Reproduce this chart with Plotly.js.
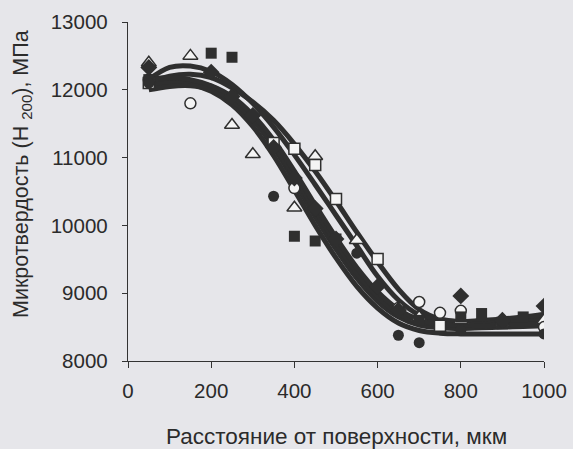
<!DOCTYPE html>
<html><head><meta charset="utf-8">
<script src="https://cdn.plot.ly/plotly-3.0.1.min.js"></script>
<style>html,body{margin:0;padding:0;background:#e6e6ea;}</style>
</head><body><div id="chart" style="width:573px;height:449px;"></div>
<script>
// Fitted curves, read at x = 50..1000 step 50
var fitX = [50,100,150,200,250,300,350,400,450,500,550,600,650,700,750,800,850,900,950,1000];
var fitA = [12100,12200,12230,12180,12030,11820,11550,11200,10800,10360,9900,9460,9060,8760,8620,8580,8580,8600,8630,8660];
var fitB = [12150,12330,12350,12270,12080,11800,11450,11040,10600,10150,9700,9250,8900,8680,8600,8580,8600,8620,8650,8690];
var fitC = [12100,12120,12120,12050,11870,11570,11150,10650,10130,9650,9220,8880,8650,8530,8490,8480,8490,8500,8510,8520];
var fitD = [12050,12100,12080,11980,11780,11460,11030,10520,10000,9520,9100,8780,8560,8450,8410,8400,8400,8400,8400,8400];
var fitE = [12000,12050,12060,12000,11840,11560,11180,10720,10220,9740,9300,8950,8700,8580,8540,8540,8550,8560,8580,8600];
var fitF = [12150,12180,12150,12060,11900,11630,11260,10800,10300,9820,9380,9020,8760,8610,8550,8530,8520,8530,8540,8560];

// Measured points
var triX = [50,150,250,300,400,450,550,700,800,900,1000];
var triY = [12400,12500,11480,11050,10260,11020,9780,8650,8600,8560,8600];
var sqFX = [50,200,250,400,450,500,700,800,850,900,950];
var sqFY = [12150,12540,12480,9840,9770,9800,8600,8650,8700,8550,8650];
var sqOX = [50,350,400,450,500,600,750,900];
var sqOY = [12100,11215,11130,10890,10390,9505,8520,8560];
var ciOX = [50,150,400,650,700,750,800,1000];
var ciOY = [12150,11800,10550,8780,8870,8710,8740,8500];
var ciFX = [50,350,550,650,700,800,1000];
var ciFY = [12100,10430,9590,8380,8270,8450,8400];
var diX = [50,200,250,300,350,400,450,500,600,650,800,900,1000];
var diY = [12330,12260,11900,11620,11150,10700,10250,9800,9100,8750,8960,8600,8810];

var xTicks = [0,200,400,600,800,1000];
var yTicks = [8000,9000,10000,11000,12000,13000];
var xTitle = 'Расстояние от поверхности, мкм';
var yTitle = 'Микротвердость (H <sub>200</sub>), МПа';

var dark = '#2f2f2f';
var traces = [];
[fitA,fitB,fitC,fitD,fitE,fitF].forEach(function(f){
  traces.push({x:fitX, y:f, mode:'lines', line:{color:dark, width:5, shape:'spline', smoothing:1}, hoverinfo:'skip'});
});
function mk(x,y,sym,open,size){
  return {x:x,y:y,mode:'markers',marker:{symbol:sym,size:size,color:open?'#f4f4f4':dark,line:{color:dark,width:open?1.5:0}}};
}
traces.push(mk(triX,triY,'triangle-up',true,13));
traces.push(mk(sqOX,sqOY,'square',true,11));
traces.push(mk(ciOX,ciOY,'circle',true,11));
traces.push(mk(sqFX,sqFY,'square',false,11));
traces.push(mk(ciFX,ciFY,'circle',false,11));
traces.push(mk(diX,diY,'diamond',false,13));

var fam = 'Liberation Sans, Arial, sans-serif';
var tc = '#2b2b2b';
var layout = {
  width:573, height:449,
  paper_bgcolor:'#e6e6ea', plot_bgcolor:'#e6e6ea',
  margin:{l:128,r:29,t:22,b:88},
  showlegend:false,
  font:{family:fam, color:tc},
  xaxis:{range:[0,1000], tickvals:xTicks, ticktext:xTicks.map(String),
    showgrid:false, zeroline:false, showline:true, linecolor:'#333', linewidth:1.2,
    ticks:'outside', ticklen:6, tickcolor:'#333', ticklabelstandoff:5, tickfont:{size:20.5, family:fam, color:tc}},
  yaxis:{range:[8000,13000], tickvals:yTicks, ticktext:yTicks.map(String),
    showgrid:false, zeroline:false, showline:true, linecolor:'#333', linewidth:1.2,
    ticks:'outside', ticklen:5, tickcolor:'#333', ticklabelstandoff:10, tickfont:{size:20.5, family:fam, color:tc}},
  annotations:[
    {text:xTitle, xref:'paper', yref:'paper', x:0.501, y:-0.224, xanchor:'center', yanchor:'middle', showarrow:false, font:{size:22.5, family:fam, color:tc}},
    {text:yTitle, xref:'paper', yref:'paper', x:-0.2548, y:0.5516, xanchor:'center', yanchor:'middle', textangle:-90, showarrow:false, font:{size:21.5, family:fam, color:tc}}
  ]
};
Plotly.newPlot('chart', traces, layout, {staticPlot:true});
</script></body></html>
